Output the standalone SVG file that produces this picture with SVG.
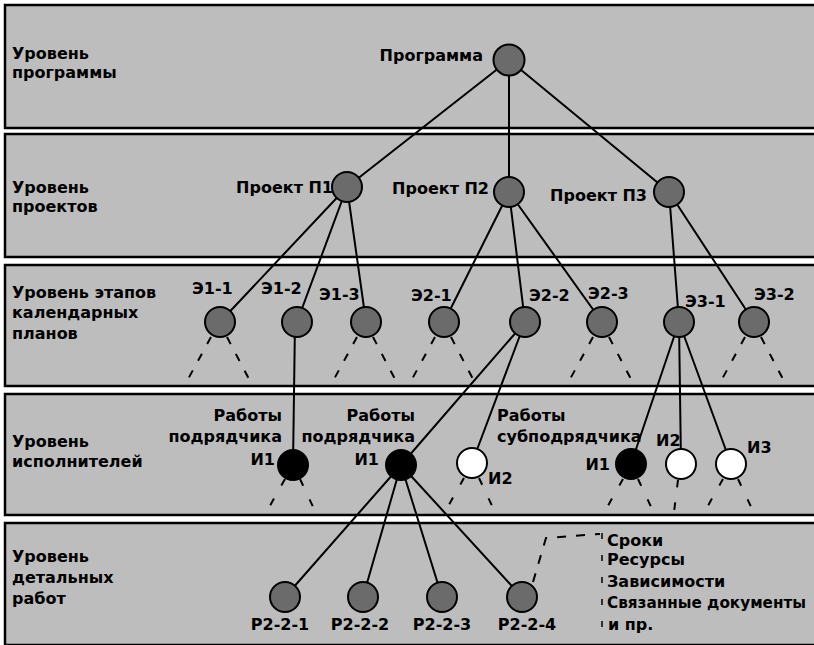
<svg xmlns="http://www.w3.org/2000/svg" width="814" height="645" viewBox="0 0 814 645">
<style>
.band{fill:#bdbdbd;stroke:#000;stroke-width:2.5}
.t{font-family:"DejaVu Sans","Liberation Sans",Arial,sans-serif;font-weight:bold;font-size:16px;fill:#000}
.e{text-anchor:end}
.m{text-anchor:middle}
.g{fill:#6b6b6b;stroke:#000;stroke-width:2}
.k{fill:#000;stroke:#000;stroke-width:2}
.w{fill:#fff;stroke:#000;stroke-width:2}
.c{stroke:#000;stroke-width:2;fill:none}
.s3{stroke:#000;stroke-width:2;fill:none;stroke-dasharray:8 11}
.s4{stroke:#000;stroke-width:2;fill:none;stroke-dasharray:7.5 15}
.d{stroke:#000;stroke-width:2;fill:none;stroke-dasharray:9 10}
.tk{stroke:#000;stroke-width:1.5;fill:none;stroke-dasharray:6 16}
</style>
<rect width="814" height="645" fill="#fff"/>
<g id="bands">
<rect class="band" x="5" y="5" width="820" height="123"/>
<rect class="band" x="5" y="134" width="820" height="123"/>
<rect class="band" x="5" y="265" width="820" height="121"/>
<rect class="band" x="5" y="394" width="820" height="121"/>
<rect class="band" x="5" y="523" width="820" height="122"/>
</g>
<g id="level-labels">
<text class="t" x="12" y="59">Уровень</text>
<text class="t" x="12" y="78">программы</text>
<text class="t" x="12" y="193">Уровень</text>
<text class="t" x="12" y="212">проектов</text>
<text class="t" x="12" y="298">Уровень этапов</text>
<text class="t" x="12" y="318">календарных</text>
<text class="t" x="12" y="339">планов</text>
<text class="t" x="12" y="447">Уровень</text>
<text class="t" x="12" y="467">исполнителей</text>
<text class="t" x="12" y="562">Уровень</text>
<text class="t" x="12" y="583">детальных</text>
<text class="t" x="12" y="604">работ</text>
</g>
<g id="connectors">
<path class="c" d="M509,60 L347,187 M509,60 L509,192 M509,60 L669,192"/>
<path class="c" d="M347,187 L220,322 M347,187 L297,322 M347,187 L366,322"/>
<path class="c" d="M509,192 L444,322 M509,192 L525,322 M509,192 L602,322"/>
<path class="c" d="M669,192 L679,322 M669,192 L754,322"/>
<path class="c" d="M295,322 L293,465"/>
<path class="c" d="M525,322 L401,465 M525,322 L472,463"/>
<path class="c" d="M679,322 L631,464 M679,322 L681,464 M679,322 L731,464"/>
<path class="c" d="M401,465 L285,597 M401,465 L363,597 M401,465 L442,597 M401,465 L522,597"/>
<path class="s3" d="M211,337 L187,381 M227,337 L250,381 M357,337 L333,381 M373,337 L396,381 M435,337 L411,381 M451,337 L474,381 M593,337 L569,381 M609,337 L632,381 M745,337 L721,381 M761,337 L784,381"/>
<path class="s4" d="M285,479 L267,511 M300,479 L315,511 M464,478 L446,510 M479,478 L494,510 M623,479 L605,511 M638,479 L653,511 M723,479 L705,511 M738,479 L753,511 M678,480 L674,512"/>
<path class="d" d="M533,582 L546,538 L600,534"/>
<path class="tk" d="M602,533 V628"/>
</g>
<g id="n-programma"><circle class="g" cx="509" cy="60" r="15.5"/><text class="t e" x="483" y="61">Программа</text></g>
<g id="n-p1"><circle class="g" cx="347" cy="187" r="15"/><text class="t e" x="333" y="193">Проект П1</text></g>
<g id="n-p2"><circle class="g" cx="509" cy="192" r="15"/><text class="t e" x="489" y="194">Проект П2</text></g>
<g id="n-p3"><circle class="g" cx="669" cy="192" r="15"/><text class="t e" x="647" y="201">Проект П3</text></g>
<g id="n-e1-1"><circle class="g" cx="220" cy="322" r="15"/><text class="t" x="192" y="294">Э1-1</text></g>
<g id="n-e1-2"><circle class="g" cx="297" cy="322" r="15"/><text class="t" x="261" y="294">Э1-2</text></g>
<g id="n-e1-3"><circle class="g" cx="366" cy="322" r="15"/><text class="t" x="319" y="300">Э1-3</text></g>
<g id="n-e2-1"><circle class="g" cx="444" cy="322" r="15"/><text class="t" x="411" y="301">Э2-1</text></g>
<g id="n-e2-2"><circle class="g" cx="525" cy="322" r="15"/><text class="t" x="529" y="301">Э2-2</text></g>
<g id="n-e2-3"><circle class="g" cx="602" cy="322" r="15"/><text class="t" x="588" y="299">Э2-3</text></g>
<g id="n-e3-1"><circle class="g" cx="679" cy="322" r="15"/><text class="t" x="685" y="307">Э3-1</text></g>
<g id="n-e3-2"><circle class="g" cx="754" cy="322" r="15"/><text class="t" x="754" y="300">Э3-2</text></g>
<g id="n-i1-a"><circle class="k" cx="293" cy="465" r="15"/><text class="t e" x="282" y="421">Работы</text><text class="t e" x="282" y="442">подрядчика</text><text class="t e" x="275" y="465">И1</text></g>
<g id="n-i1-b"><circle class="k" cx="401" cy="465" r="15"/><text class="t e" x="415" y="421">Работы</text><text class="t e" x="415" y="442">подрядчика</text><text class="t e" x="379" y="465">И1</text></g>
<g id="n-i2-b"><circle class="w" cx="472" cy="463" r="15"/><text class="t" x="497" y="421">Работы</text><text class="t" x="497" y="442">субподрядчика</text><text class="t" x="488" y="484">И2</text></g>
<g id="n-i1-c"><circle class="k" cx="631" cy="464" r="15"/><text class="t e" x="610" y="470">И1</text></g>
<g id="n-i2-c"><circle class="w" cx="681" cy="464" r="15"/><text class="t" x="656" y="446">И2</text></g>
<g id="n-i3-c"><circle class="w" cx="731" cy="464" r="15"/><text class="t" x="747" y="453">И3</text></g>
<g id="n-r1"><circle class="g" cx="285" cy="597" r="15"/><text class="t m" x="280" y="630">Р2-2-1</text></g>
<g id="n-r2"><circle class="g" cx="363" cy="597" r="15"/><text class="t m" x="360" y="630">Р2-2-2</text></g>
<g id="n-r3"><circle class="g" cx="442" cy="597" r="15"/><text class="t m" x="442" y="630">Р2-2-3</text></g>
<g id="n-r4"><circle class="g" cx="522" cy="597" r="15"/><text class="t m" x="527" y="630">Р2-2-4</text></g>
<g id="attributes">
<text class="t" x="607" y="546">Сроки</text>
<text class="t" x="607" y="565">Ресурсы</text>
<text class="t" x="607" y="587">Зависимости</text>
<text class="t" x="607" y="608" style="font-size:15px" textLength="199" lengthAdjust="spacingAndGlyphs">Связанные документы</text>
<text class="t" x="608" y="630">и пр.</text>
</g>
</svg>
